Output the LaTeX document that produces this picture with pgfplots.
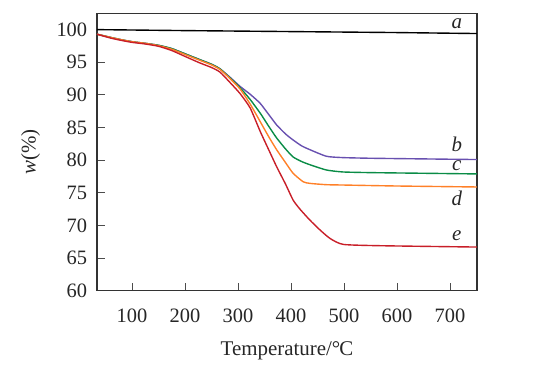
\documentclass[border=0pt]{standalone}
\usepackage{pgfplots}
\pgfplotsset{compat=1.18}
\usepackage{fontspec}
\setmainfont{Liberation Serif}
\definecolor{cb}{RGB}{104,80,176}
\definecolor{cc}{RGB}{10,140,70}
\definecolor{cd}{RGB}{255,128,40}
\definecolor{ce}{RGB}{200,30,40}
\begin{document}
\fontsize{20}{24}\selectfont
\begin{tikzpicture}
\path[use as bounding box] (-97bp,-88.2bp) rectangle (442bp,290.8bp);
\begin{axis}[
  at={(0,0)}, anchor=south west,
  width=380bp, height=277.5bp, scale only axis,
  xmin=34, xmax=751, ymin=60, ymax=102.5,
  xtick={100,200,...,700}, ytick={60,65,...,100},
  tick align=inside, xtick pos=bottom, ytick pos=left,
  major tick length=8bp,
  axis line style={line width=1.1pt, black!80},
  tick style={line width=0.9pt, black!70},
  /pgf/number format/assume math mode=true,
  tick label style={font=\fontsize{20.5}{24}\selectfont, text=black!85},
  xticklabel style={yshift=-11bp},
  yticklabel style={xshift=-3bp},
  xlabel={Temperature/\textdegree{}\kern-1pt C},
  ylabel={\textit{w}(\%)},
  label style={font=\fontsize{21}{24}\selectfont, text=black!85},
  xlabel style={yshift=-6bp},
  ylabel style={yshift=3bp},
  every axis plot/.append style={line width=1.4pt, no markers},
]
\addplot[black] coordinates {(34,100.0) (200,99.85) (400,99.7) (600,99.55) (751,99.4)};
\addplot[cb, smooth, tension=0.35] coordinates {
(34,99.3) (60,98.8) (80,98.45) (100,98.15) (125,97.9) (150,97.6) (175,97.1) (200,96.3) (228,95.4) (250,94.7) (266,94.0) (285,92.7) (304,91.3)
(323,90.1) (342,88.7) (358,87.0) (373,85.4) (390,84.0) (404,83.1) (420,82.2) (436,81.6) (467,80.6) (498,80.4) (550,80.3) (650,80.2) (751,80.1)};
\addplot[cc, smooth, tension=0.35] coordinates {
(34,99.3) (60,98.8) (80,98.45) (100,98.15) (125,97.9) (150,97.6) (175,97.1) (200,96.3) (228,95.4) (250,94.7) (266,94.0) (285,92.6) (304,91.1)
(323,89.3) (342,87.2) (358,85.2) (373,83.4) (390,81.7) (404,80.5) (420,79.8) (436,79.3) (467,78.5) (498,78.2) (550,78.1) (650,78.0) (751,77.9)};
\addplot[cd, smooth, tension=0.35] coordinates {
(34,99.3) (60,98.8) (80,98.45) (100,98.15) (125,97.9) (150,97.55) (175,97.0) (200,96.2) (228,95.3) (250,94.6) (266,93.9) (285,92.5) (304,90.9)
(323,88.6) (342,85.9) (358,83.6) (373,81.6) (390,79.6) (404,78.0) (423,76.7) (436,76.45) (467,76.25) (498,76.2) (600,76.05) (751,75.9)};
\addplot[ce, smooth, tension=0.35] coordinates {
(34,99.3) (60,98.7) (80,98.35) (100,98.05) (125,97.8) (150,97.45) (175,96.8) (200,95.9) (228,94.9) (250,94.2) (266,93.5) (285,91.9) (304,90.2)
(323,88.0) (342,84.4) (358,81.6) (373,79.0) (390,76.3) (404,73.9) (417,72.5) (436,70.8) (455,69.3) (474,68.0) (499,67.1) (572,66.9) (751,66.7)};
\node[font=\itshape\fontsize{21}{24}\selectfont, text=black!85] at (axis cs:713,100.9) {a};
\node[font=\itshape\fontsize{21}{24}\selectfont, text=black!85] at (axis cs:713,82.4) {b};
\node[font=\itshape\fontsize{21}{24}\selectfont, text=black!85] at (axis cs:713,79.1) {c};
\node[font=\itshape\fontsize{21}{24}\selectfont, text=black!85] at (axis cs:713,74.2) {d};
\node[font=\itshape\fontsize{21}{24}\selectfont, text=black!85] at (axis cs:713,68.4) {e};
\end{axis}
\end{tikzpicture}
\end{document}
